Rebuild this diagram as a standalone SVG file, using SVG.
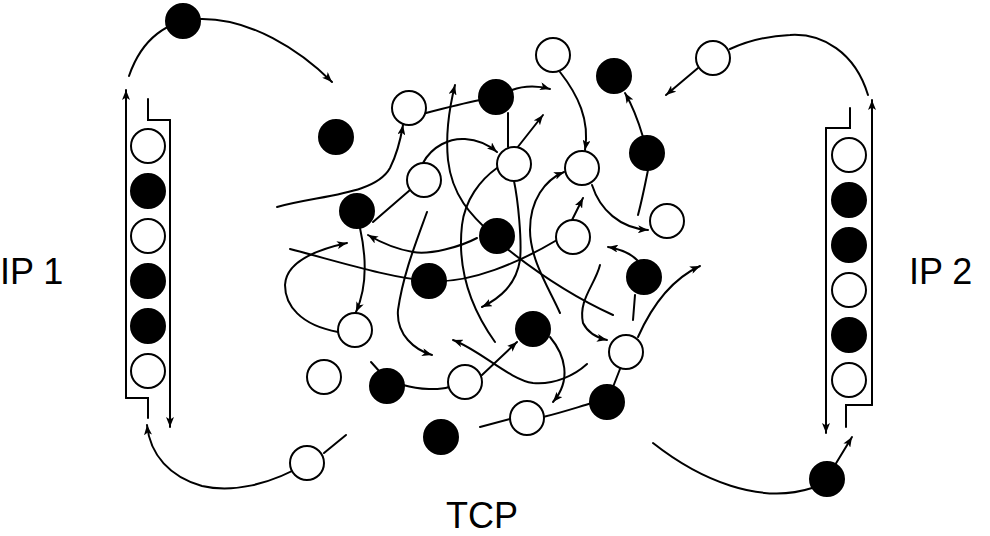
<svg xmlns="http://www.w3.org/2000/svg" width="990" height="536" viewBox="0 0 990 536">
<style>
.c{fill:none;stroke:#000;stroke-width:2;stroke-linecap:round}
.a{marker-end:url(#ah)}
.w{fill:#fff;stroke:#000;stroke-width:2}
.b{fill:#000;stroke:#000;stroke-width:2}
.t{font-family:"Liberation Sans",Arial,sans-serif;font-size:36px;fill:#000}
</style>
<defs>
<marker id="ah" viewBox="0 0 10 8" refX="10" refY="4" markerWidth="10" markerHeight="8" markerUnits="userSpaceOnUse" orient="auto">
<path d="M0,0 L10,4 L0,8 L2.5,4 Z" fill="#000"/>
</marker>
</defs>
<rect width="990" height="536" fill="#fff"/>
<g id="connectors">
<!-- stacks -->
<path class="c a" d="M126,398 L126,90"/>
<path class="c" d="M126,398 L148,398 L148,418"/>
<path class="c" d="M148,99 L148,120 L170,120"/>
<path class="c a" d="M170,120 L170,427"/>
<path class="c" d="M850,108 L850,128 L826,128"/>
<path class="c a" d="M826,128 L826,433"/>
<path class="c a" d="M872,405 L872,100"/>
<path class="c" d="M872,405 L846,405 L846,427"/>
<!-- outer arcs -->
<path class="c a" d="M129,76 C142,38 168,20 200,19 C250,18 300,50 332,82"/>
<path class="c" d="M868,95 C855,52 822,33 790,35 C765,36 745,42 730,49"/>
<path class="c a" d="M698,68 L666,95"/>
<path class="c a" d="M307,463 C270,485 232,493 202,486 C170,477 150,455 147,425"/>
<path class="c" d="M324,453 L346,435"/>
<path class="c" d="M653,443 C700,480 760,505 812,488"/>
<path class="c a" d="M835,465 L852,437"/>
<!-- center tangle -->
<path class="c a" d="M277,207 C320,195 375,195 390,168 C398,152 401,137 403,125"/>
<path class="c" d="M426,113 C445,108 465,103 480,100"/>
<path class="c a" d="M494,236 C470,215 452,195 448,160 C445,130 450,105 455,85"/>
<path class="c a" d="M423,163 C432,146 450,138 465,139 C480,140 490,146 497,152"/>
<path class="c" d="M373,222 L410,190"/>
<path class="c a" d="M427,212 C415,245 403,275 398,310 C396,335 415,350 432,355"/>
<path class="c" d="M290,249 C340,262 390,278 430,281 C470,284 520,262 557,240"/>
<path class="c a" d="M338,332 C300,325 285,305 285,285 C286,262 315,250 347,243"/>
<path class="c a" d="M477,238 C460,247 430,255 413,252 C395,249 380,242 368,235"/>
<path class="c a" d="M360,228 C366,255 368,285 356,312"/>
<path class="c" d="M497,168 C480,180 465,200 462,225 C458,260 465,300 495,342"/>
<path class="c a" d="M560,72 C578,95 590,120 585,150"/>
<path class="c a" d="M643,137 C638,120 632,105 625,93"/>
<path class="c" d="M648,170 C645,185 642,200 638,215"/>
<path class="c a" d="M512,90 C525,85 540,86 550,89"/>
<path class="c" d="M508,113 L508,147"/>
<path class="c a" d="M517,148 L543,115"/>
<path class="c a" d="M514,181 C518,200 522,240 520,260 C516,285 500,298 482,307"/>
<path class="c a" d="M560,313 C550,290 530,260 530,230 C530,200 545,180 564,172"/>
<path class="c a" d="M592,185 C600,210 620,228 648,230"/>
<path class="c a" d="M572,220 L583,198"/>
<path class="c" d="M506,248 C540,275 580,300 613,315"/>
<path class="c a" d="M637,260 C630,253 620,249 608,247"/>
<path class="c a" d="M600,265 C595,285 578,300 583,323 C588,333 598,338 607,340"/>
<path class="c a" d="M638,337 C650,310 670,280 700,266"/>
<path class="c" d="M635,295 L633,320"/>
<path class="c a" d="M587,364 C575,375 555,385 533,383 C510,380 480,350 453,340"/>
<path class="c a" d="M482,375 L517,342"/>
<path class="c a" d="M550,337 C565,355 572,380 553,402"/>
<path class="c" d="M510,419 L480,427"/>
<path class="c" d="M543,417 C560,413 575,408 592,403"/>
<path class="c" d="M620,369 L613,387"/>
<path class="c" d="M371,362 L380,372"/>
<path class="c" d="M403,385 C420,390 440,390 449,387"/>
</g>
<g id="stack-left">
<circle class="w" cx="148" cy="146" r="17"/>
<circle class="b" cx="148" cy="191" r="17"/>
<circle class="w" cx="148" cy="236" r="17"/>
<circle class="b" cx="148" cy="281" r="17"/>
<circle class="b" cx="148" cy="326" r="17"/>
<circle class="w" cx="148" cy="371" r="17"/>
</g>
<g id="stack-right">
<circle class="w" cx="849" cy="155" r="17"/>
<circle class="b" cx="849" cy="200" r="17"/>
<circle class="b" cx="849" cy="245" r="17"/>
<circle class="w" cx="849" cy="290" r="17"/>
<circle class="b" cx="849" cy="335" r="17"/>
<circle class="w" cx="849" cy="380" r="17"/>
</g>
<g id="particles">
<circle id="b1" class="b" cx="183" cy="21" r="17"/>
<circle id="b2" class="b" cx="336" cy="137" r="17"/>
<circle id="b3" class="b" cx="357" cy="211" r="17"/>
<circle id="b4" class="b" cx="496" cy="97" r="17"/>
<circle id="b5" class="b" cx="614" cy="76" r="17"/>
<circle id="b6" class="b" cx="647" cy="153" r="17"/>
<circle id="b7" class="b" cx="497" cy="236" r="17"/>
<circle id="b8" class="b" cx="429" cy="281" r="17"/>
<circle id="b9" class="b" cx="644" cy="277" r="17"/>
<circle id="b10" class="b" cx="533" cy="329" r="17"/>
<circle id="b11" class="b" cx="387" cy="386" r="17"/>
<circle id="b12" class="b" cx="607" cy="402" r="17"/>
<circle id="b13" class="b" cx="441" cy="437" r="17"/>
<circle id="b14" class="b" cx="827" cy="479" r="17"/>
<circle id="w1" class="w" cx="553" cy="55" r="17"/>
<circle id="w2" class="w" cx="713" cy="58" r="17"/>
<circle id="w3" class="w" cx="409" cy="108" r="17"/>
<circle id="w4" class="w" cx="514" cy="164" r="17"/>
<circle id="w5" class="w" cx="424" cy="180" r="17"/>
<circle id="w6" class="w" cx="582" cy="168" r="17"/>
<circle id="w7" class="w" cx="667" cy="221" r="17"/>
<circle id="w8" class="w" cx="573" cy="237" r="17"/>
<circle id="w9" class="w" cx="355" cy="330" r="17"/>
<circle id="w10" class="w" cx="324" cy="377" r="17"/>
<circle id="w11" class="w" cx="465" cy="382" r="17"/>
<circle id="w12" class="w" cx="626" cy="352" r="17"/>
<circle id="w13" class="w" cx="527" cy="418" r="17"/>
<circle id="w14" class="w" cx="307" cy="463" r="17"/>
</g>
<text class="t" x="0" y="284">IP 1</text>
<text class="t" x="909" y="284">IP 2</text>
<text class="t" x="446" y="528">TCP</text>
</svg>
